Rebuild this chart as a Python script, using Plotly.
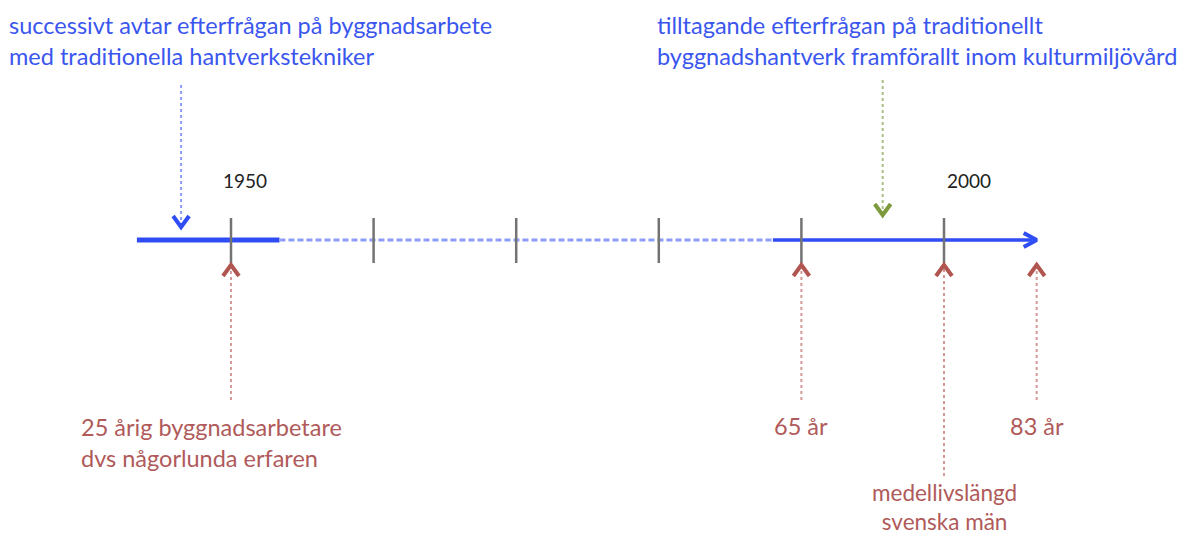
import plotly.graph_objects as go

# ---------------- data ----------------
tick_years = [1950, 1960, 1970, 1980, 1990, 2000]
labeled_years = [1950, 2000]
year_labels = ["1950", "2000"]

axis_start = 1943.4      # start of the thick solid section
solid_end = 1953.4       # end of thick solid section
dashed_end = 1988.0      # end of dashed section
axis_end = 2006.5        # arrow tip

demand_years = [1946.5, 1995.7]
demand_lines = [
    ["successivt avtar efterfrågan på byggnadsarbete",
     "med traditionella hantverkstekniker"],
    ["tilltagande efterfrågan på traditionellt",
     "byggnadshantverk framförallt inom kulturmiljövård"],
]

age_years = [1950, 1990, 2000, 2006.5]
age_values = [25, 65, 75, 83]
age_lines = [
    ["25 årig byggnadsarbetare", "dvs någorlunda erfaren"],
    ["65 år"],
    ["medellivslängd", "svenska män"],
    ["83 år"],
]

# ---------------- layout helpers ----------------
W, H = 1196, 540
PX_1950, PX_PER_DECADE = 231, 142.6
ypp = 10 / PX_PER_DECADE  # years per pixel
x_range = [1950 - PX_1950 * ypp, 1950 + (W - PX_1950) * ypp]

def px2yr(px):
    return 1950 + (px - PX_1950) * ypp

AXIS_Y = 240
BLUE = "#2f4cf5"
BLUE_TXT = "#3a56ee"
BLUE_LIGHT = "#8c9cf8"
GRAY = "#737373"
RED_TXT = "#b05a5a"
RED_ARROW = "#b0554f"
RED_DOT = "#d39a98"
GREEN = "#7d9a3c"
GREEN_DOT = "#a9c084"
FONT = "Lato"
TXT_SIZE = 23.5

fig = go.Figure()

def line(xs, ys, color, width, dash="solid"):
    fig.add_trace(go.Scatter(x=xs, y=ys, mode="lines",
                             line=dict(color=color, width=width, dash=dash),
                             hoverinfo="skip", showlegend=False))

def chevron(x, y, direction, color, half_w=8, depth=11, width=4):
    if direction == "down":
        xs = [x - half_w * ypp, x, x + half_w * ypp]
        ys = [y - depth, y, y - depth]
    elif direction == "up":
        xs = [x - half_w * ypp, x, x + half_w * ypp]
        ys = [y + depth, y, y + depth]
    else:
        xs = [x - depth * ypp, x, x - depth * ypp]
        ys = [y - half_w, y, y + half_w]
    line(xs, ys, color, width)

# main timeline
line([axis_start, solid_end], [AXIS_Y, AXIS_Y], BLUE, 5)
line([solid_end, dashed_end], [AXIS_Y, AXIS_Y], BLUE_LIGHT, 3, "6px,3px")
line([dashed_end, axis_end - 0.3], [AXIS_Y, AXIS_Y], BLUE, 3.5)
chevron(axis_end, AXIS_Y, "right", BLUE, half_w=7, depth=13, width=4)

# ticks
for ty in tick_years:
    line([ty, ty], [218, 263], GRAY, 2.5)

# year labels
year_label_px = [244.5, 968.5]
for px, lab in zip(year_label_px, year_labels):
    fig.add_annotation(x=px2yr(px), y=180, text=lab, showarrow=False,
                       xanchor="center", yanchor="middle",
                       font=dict(family=FONT, size=19, color="#222222"))

# demand arrows (down)
demand_colors = [(BLUE_LIGHT, BLUE), (GREEN_DOT, GREEN)]
demand_tops = [85, 80]
demand_tips = [227, 215]
for yr, top, tip, (dc, hc) in zip(demand_years, demand_tops, demand_tips, demand_colors):
    line([yr, yr], [top, tip - 3], dc, 2, "dot")
    chevron(yr, tip, "down", hc)

# demand texts
text_pos = [(7, [25, 56]), (655, [25, 56])]
for (px, ys), lines_ in zip(text_pos, demand_lines):
    for yy, t in zip(ys, lines_):
        fig.add_annotation(x=px2yr(px), y=yy, text=t, showarrow=False,
                           xanchor="left", yanchor="middle",
                           font=dict(family=FONT, size=TXT_SIZE, color=BLUE_TXT))

# age arrows (up)
age_bottoms = [400, 400, 476, 400]
for yr, bot in zip(age_years, age_bottoms):
    line([yr, yr], [bot, 267], RED_DOT, 2, "dot")
    chevron(yr, 265, "up", RED_ARROW)

# age texts (left anchor px or None = centred on the event; centre y; size)
age_text_layout = [
    ("left", 80, 442, TXT_SIZE),
    ("center", None, 426, TXT_SIZE),
    ("center", None, 507, 22.5),
    ("center", None, 426, TXT_SIZE),
]
for yr, lines_, (anch, px, yy, sz) in zip(age_years, age_lines, age_text_layout):
    xx = px2yr(px) if px is not None else yr
    fig.add_annotation(x=xx, y=yy, text="<br>".join(lines_), showarrow=False,
                       xanchor=anch, yanchor="middle", align=anch,
                       borderpad=0,
                       font=dict(family=FONT, size=sz, color=RED_TXT))

fig.update_layout(
    width=W, height=H,
    margin=dict(l=0, r=0, t=0, b=0),
    paper_bgcolor="white", plot_bgcolor="white",
    xaxis=dict(range=x_range, visible=False, fixedrange=True),
    yaxis=dict(range=[H, 0], visible=False, fixedrange=True),
    showlegend=False,
)

fig.write_html("out.html", config={"displayModeBar": False},
               post_script="document.body.style.margin='0px';document.body.style.overflow='hidden';")
